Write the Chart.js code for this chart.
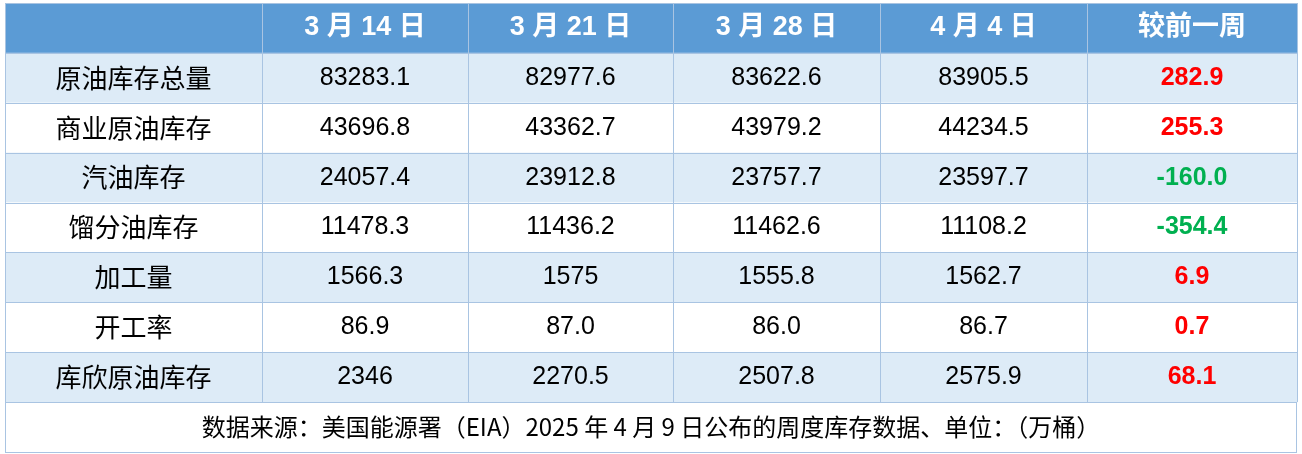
<!DOCTYPE html>
<html><head><meta charset="utf-8">
<script src="https://cdn.jsdelivr.net/npm/chart.js@4"></script>
<style>html,body{margin:0;padding:0;background:#fff}#w{width:1302px;height:454px}</style>
</head><body><div id="w"><canvas id="c"></canvas></div>
<script>
const columns = ["", "3 月 14 日", "3 月 21 日", "3 月 28 日", "4 月 4 日", "较前一周"];
const rowNames = ["原油库存总量","商业原油库存","汽油库存","馏分油库存","加工量","开工率","库欣原油库存"];
const mar14 = ["83283.1","43696.8","24057.4","11478.3","1566.3","86.9","2346"];
const mar21 = ["82977.6","43362.7","23912.8","11436.2","1575","87.0","2270.5"];
const mar28 = ["83622.6","43979.2","23757.7","11462.6","1555.8","86.0","2507.8"];
const apr4  = ["83905.5","44234.5","23597.7","11108.2","1562.7","86.7","2575.9"];
const change = ["282.9","255.3","-160.0","-354.4","6.9","0.7","68.1"];
const footer = "数据来源：美国能源署（EIA）2025 年 4 月 9 日公布的周度库存数据、单位：（万桶）";
const yLabels = ["header", ...rowNames, "footer"];

const tablePlugin = {
  id: "table",
  afterDraw(chart) {
    const ctx = chart.ctx, xs = chart.scales.x, ys = chart.scales.y;
    const weights = [257, 206, 205, 207, 207, 210];
    const edges = [0]; weights.forEach(w => edges.push(edges[edges.length-1] + w));
    const total = edges[edges.length-1];
    const ex = i => xs.left + xs.width * edges[i] / total;
    const rh = ys.height / yLabels.length;
    const cols = [mar14, mar21, mar28, apr4, change];
    ctx.save();
    yLabels.forEach((r, ri) => {
      const yc = ys.getPixelForValue(ri), top = yc - rh/2;
      ctx.textAlign = "center"; ctx.textBaseline = "middle";
      if (r === "footer") {
        ctx.fillStyle = "#fff"; ctx.fillRect(xs.left, top, xs.width, rh);
        ctx.fillStyle = "#000"; ctx.font = "24px 'Noto Sans CJK SC'";
        ctx.fillText(footer, xs.left + xs.width/2, yc);
        return;
      }
      columns.forEach((c, ci) => {
        const left = ex(ci), right = ex(ci+1), xc = (left+right)/2;
        let bg = ri === 0 ? "#5B9BD5" : ((ri % 2 === 1) ? "#DDEBF7" : "#FFFFFF");
        ctx.fillStyle = bg; ctx.fillRect(left, top, right-left, rh);
        let txt, color = "#000", font;
        if (ri === 0) { txt = c; color = "#fff"; font = "bold 27px 'Liberation Sans', 'Noto Sans CJK SC'"; }
        else if (ci === 0) { txt = rowNames[ri-1]; font = "26px 'Noto Sans CJK SC'"; }
        else {
          txt = cols[ci-1][ri-1];
          font = "25px 'Liberation Sans'";
          if (ci === 5) { font = "bold 25px 'Liberation Sans'"; color = txt.startsWith("-") ? "#00B050" : "#FF0000"; }
        }
        ctx.fillStyle = color; ctx.font = font;
        ctx.fillText(txt, xc, yc);
      });
    });
    ctx.strokeStyle = "#A9C4E2"; ctx.lineWidth = 1;
    for (let i = 0; i <= yLabels.length; i++) {
      const y = Math.round(ys.top + i*rh) + 0.5;
      ctx.beginPath(); ctx.moveTo(xs.left, y); ctx.lineTo(xs.right, y); ctx.stroke();
    }
    for (let i = 0; i <= columns.length; i++) {
      const x = Math.round(ex(i)) + 0.5;
      ctx.beginPath(); ctx.moveTo(x, ys.top); ctx.lineTo(x, ys.bottom - rh); ctx.stroke();
    }
    ctx.beginPath(); ctx.moveTo(xs.left+0.5, ys.bottom-rh); ctx.lineTo(xs.left+0.5, ys.bottom); ctx.stroke();
    ctx.beginPath(); ctx.moveTo(xs.right-0.5, ys.bottom-rh); ctx.lineTo(xs.right-0.5, ys.bottom); ctx.stroke();
    ctx.restore();
  }
};

new Chart(document.getElementById("c"), {
  type: "bar",
  data: { labels: columns.map((_, i) => i), datasets: [{ data: [], yAxisID: "y" }] },
  options: {
    responsive: true, maintainAspectRatio: false, animation: false,
    layout: { padding: { left: 5, right: 5, top: 3, bottom: 2 } },
    plugins: { legend: { display: false }, tooltip: { enabled: false } },
    scales: {
      x: { type: "category", labels: columns.map((_, i) => i), offset: true, display: false },
      y: { type: "category", labels: yLabels.map((_, i) => i), offset: true, display: false }
    }
  },
  plugins: [tablePlugin]
});
</script></body></html>
